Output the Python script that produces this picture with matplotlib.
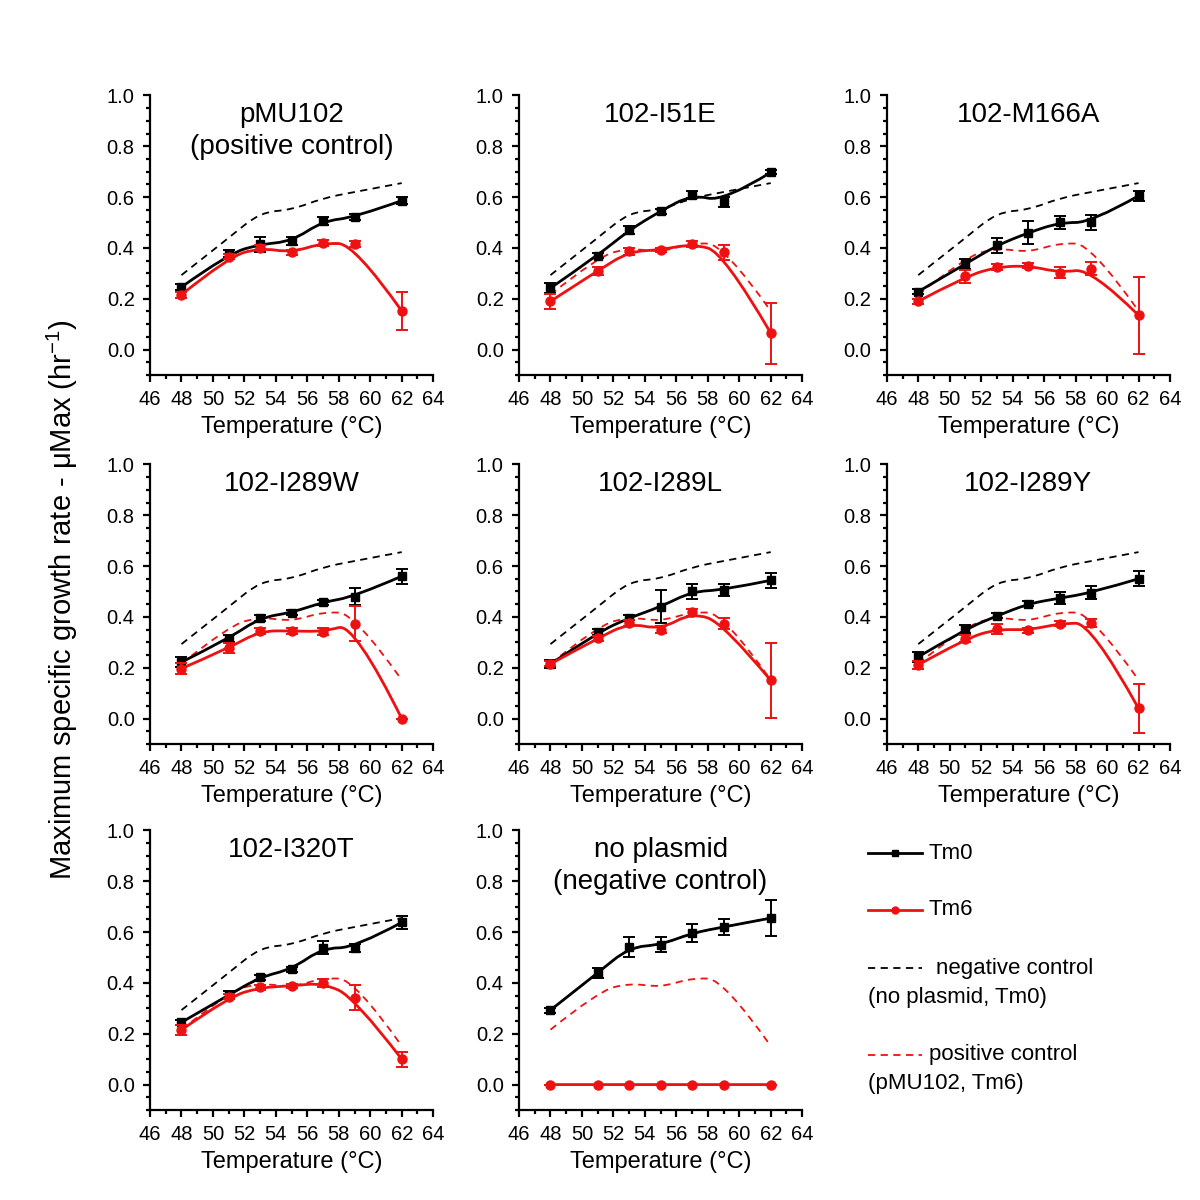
import matplotlib
matplotlib.use("Agg")
import matplotlib.pyplot as plt
from matplotlib.path import Path
from matplotlib.patches import PathPatch
from matplotlib.lines import Line2D
from matplotlib.ticker import MultipleLocator

plt.rcParams["font.family"] = ["Liberation Sans", "DejaVu Sans"]
plt.rcParams["mathtext.fontset"] = "custom"
plt.rcParams["mathtext.rm"] = "Liberation Sans"
plt.rcParams["mathtext.it"] = "Liberation Sans"

# temperatures (°C)
temperatures = [48, 51, 53, 55, 57, 59, 62]

titres = ["pMU102\n(positive control)", "102-I51E", "102-M166A",
          "102-I289W", "102-I289L", "102-I289Y",
          "102-I320T", "no plasmid\n(negative control)"]

# valeurs (mu max, hr-1) et barres d'erreur
pmu102_tm0 = [0.246, 0.378, 0.414, 0.426, 0.506, 0.520, 0.586]
pmu102_tm0_err = [0.012, 0.012, 0.030, 0.015, 0.015, 0.012, 0.015]
pmu102_tm6 = [0.216, 0.365, 0.400, 0.382, 0.420, 0.414, 0.152]
pmu102_tm6_err = [0.012, 0.010, 0.010, 0.010, 0.012, 0.012, 0.075]

i51e_tm0 = [0.242, 0.370, 0.470, 0.545, 0.610, 0.582, 0.697]
i51e_tm0_err = [0.020, 0.010, 0.015, 0.010, 0.015, 0.020, 0.008]
i51e_tm6 = [0.190, 0.310, 0.386, 0.392, 0.416, 0.383, 0.065]
i51e_tm6_err = [0.030, 0.015, 0.015, 0.008, 0.012, 0.030, 0.120]

m166a_tm0 = [0.228, 0.337, 0.410, 0.460, 0.500, 0.500, 0.605]
m166a_tm0_err = [0.010, 0.020, 0.030, 0.045, 0.025, 0.030, 0.020]
m166a_tm6 = [0.190, 0.288, 0.325, 0.330, 0.303, 0.318, 0.135]
m166a_tm6_err = [0.010, 0.025, 0.010, 0.010, 0.020, 0.025, 0.152]

i289w_tm0 = [0.222, 0.315, 0.397, 0.417, 0.458, 0.480, 0.560]
i289w_tm0_err = [0.020, 0.012, 0.012, 0.010, 0.010, 0.035, 0.030]
i289w_tm6 = [0.197, 0.277, 0.345, 0.345, 0.342, 0.374, 0.000]
i289w_tm6_err = [0.020, 0.020, 0.012, 0.012, 0.015, 0.070, 0.000]

i289l_tm0 = [0.215, 0.339, 0.396, 0.440, 0.500, 0.506, 0.544]
i289l_tm0_err = [0.015, 0.012, 0.010, 0.065, 0.030, 0.025, 0.030]
i289l_tm6 = [0.215, 0.316, 0.376, 0.350, 0.418, 0.374, 0.150]
i289l_tm6_err = [0.010, 0.010, 0.010, 0.015, 0.015, 0.020, 0.148]

i289y_tm0 = [0.243, 0.352, 0.404, 0.452, 0.474, 0.495, 0.550]
i289y_tm0_err = [0.020, 0.015, 0.010, 0.010, 0.025, 0.025, 0.030]
i289y_tm6 = [0.211, 0.315, 0.352, 0.348, 0.374, 0.376, 0.040]
i289y_tm6_err = [0.015, 0.015, 0.020, 0.010, 0.010, 0.015, 0.098]

i320t_tm0 = [0.245, 0.352, 0.423, 0.454, 0.538, 0.538, 0.638]
i320t_tm0_err = [0.010, 0.015, 0.010, 0.010, 0.025, 0.015, 0.025]
i320t_tm6 = [0.215, 0.345, 0.382, 0.388, 0.400, 0.342, 0.100]
i320t_tm6_err = [0.020, 0.010, 0.010, 0.008, 0.015, 0.050, 0.030]

noplasmid_tm0 = [0.293, 0.439, 0.540, 0.550, 0.596, 0.620, 0.655]
noplasmid_tm0_err = [0.010, 0.020, 0.040, 0.030, 0.035, 0.030, 0.070]
noplasmid_tm6 = [0.0, 0.0, 0.0, 0.0, 0.0, 0.0, 0.0]
noplasmid_tm6_err = [0.0, 0.0, 0.0, 0.0, 0.0, 0.0, 0.0]

series = [
    (pmu102_tm0, pmu102_tm0_err, pmu102_tm6, pmu102_tm6_err),
    (i51e_tm0, i51e_tm0_err, i51e_tm6, i51e_tm6_err),
    (m166a_tm0, m166a_tm0_err, m166a_tm6, m166a_tm6_err),
    (i289w_tm0, i289w_tm0_err, i289w_tm6, i289w_tm6_err),
    (i289l_tm0, i289l_tm0_err, i289l_tm6, i289l_tm6_err),
    (i289y_tm0, i289y_tm0_err, i289y_tm6, i289y_tm6_err),
    (i320t_tm0, i320t_tm0_err, i320t_tm6, i320t_tm6_err),
    (noplasmid_tm0, noplasmid_tm0_err, noplasmid_tm6, noplasmid_tm6_err),
]

ROUGE = "#ee1111"


def courbe_bspline(ax, x, y, **kw):
    # B-spline quadratique (comme la connexion "B-Spline" d'Origin)
    pts = list(zip(x, y))
    n = len(pts)
    verts = [pts[0]]
    codes = [Path.MOVETO]
    for i in range(1, n - 1):
        if i < n - 2:
            fin = ((pts[i][0] + pts[i + 1][0]) / 2, (pts[i][1] + pts[i + 1][1]) / 2)
        else:
            fin = pts[n - 1]
        verts += [pts[i], fin]
        codes += [Path.CURVE3, Path.CURVE3]
    ax.add_patch(PathPatch(Path(verts, codes), fill=False, **kw))


fig = plt.figure(figsize=(12, 12), dpi=100)

lefts = [0.125, 0.4325, 0.739]
bottoms = [0.6875, 0.38, 0.075]
largeur = 0.236
hauteur = 0.233

for k in range(8):
    ligne = k // 3
    col = k % 3
    ax = fig.add_axes([lefts[col], bottoms[ligne], largeur, hauteur])
    tm0, tm0_err, tm6, tm6_err = series[k]

    # courbes de reference
    courbe_bspline(ax, temperatures, noplasmid_tm0, edgecolor="black", lw=1.3,
                   linestyle=(0, (4, 3)), zorder=1)
    courbe_bspline(ax, temperatures, pmu102_tm6, edgecolor=ROUGE, lw=1.3,
                   linestyle=(0, (4, 3)), zorder=1)

    courbe_bspline(ax, temperatures, tm0, edgecolor="black", lw=2.0, zorder=2)
    ax.errorbar(temperatures, tm0, yerr=tm0_err, fmt="s", color="black", ms=5.5,
                capsize=4, elinewidth=1.4, capthick=1.4, zorder=3)

    courbe_bspline(ax, temperatures, tm6, edgecolor=ROUGE, lw=2.0, zorder=4)
    ax.errorbar(temperatures, tm6, yerr=tm6_err, fmt="o", color=ROUGE, ms=6.5,
                capsize=4, elinewidth=1.4, capthick=1.4, zorder=5)

    ax.set_xlim(46, 64)
    ax.set_ylim(-0.1, 1.0)
    ax.xaxis.set_major_locator(MultipleLocator(2))
    ax.xaxis.set_minor_locator(MultipleLocator(1))
    ax.yaxis.set_major_locator(MultipleLocator(0.2))
    ax.yaxis.set_minor_locator(MultipleLocator(0.05))
    ax.set_yticks([0.0, 0.2, 0.4, 0.6, 0.8, 1.0])
    ax.set_yticklabels(["0.0", "0.2", "0.4", "0.6", "0.8", "1.0"])
    ax.spines["top"].set_visible(False)
    ax.spines["right"].set_visible(False)
    ax.spines["left"].set_linewidth(1.6)
    ax.spines["bottom"].set_linewidth(1.6)
    ax.tick_params(which="major", direction="out", length=5, width=1.6,
                   labelsize=14.5, pad=6)
    ax.tick_params(which="minor", direction="out", length=3, width=1.6)
    ax.set_xlabel("Temperature (°C)", fontsize=17, labelpad=5)
    ax.text(0.5, 0.975, titres[k], transform=ax.transAxes, ha="center", va="top",
            fontsize=20, linespacing=1.3)

fig.text(0.052, 0.5, "Maximum specific growth rate - μMax (hr$^{-1}$)",
         rotation=90, ha="center", va="center", fontsize=21)

# legende dessinee a la main
x0, x1 = 0.7233, 0.768
fig.add_artist(Line2D([x0, (x0 + x1) / 2, x1], [0.289] * 3, color="black", lw=2,
                      marker="s", ms=4, markevery=[1], transform=fig.transFigure))
fig.text(0.774, 0.289, "Tm0", fontsize=16, va="center")
fig.add_artist(Line2D([x0, (x0 + x1) / 2, x1], [0.2417] * 3, color=ROUGE, lw=2,
                      marker="o", ms=5, markevery=[1], transform=fig.transFigure))
fig.text(0.774, 0.2417, "Tm6", fontsize=16, va="center")
fig.add_artist(Line2D([x0, x1], [0.193] * 2, color="black", lw=1.3,
                      linestyle=(0, (4, 3)), transform=fig.transFigure))
fig.text(0.78, 0.193, "negative control", fontsize=16, va="center")
fig.text(x0, 0.169, "(no plasmid, Tm0)", fontsize=16, va="center")
fig.add_artist(Line2D([x0, x1], [0.121] * 2, color=ROUGE, lw=1.3,
                      linestyle=(0, (4, 3)), transform=fig.transFigure))
fig.text(0.774, 0.121, "positive control", fontsize=16, va="center")
fig.text(x0, 0.0975, "(pMU102, Tm6)", fontsize=16, va="center")

fig.savefig("out.png", dpi=100, facecolor="white")
